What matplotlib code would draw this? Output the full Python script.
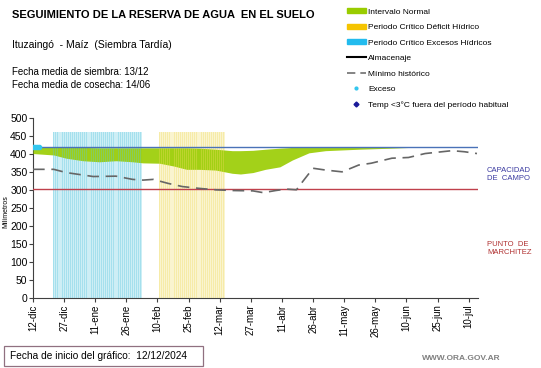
import numpy as np
import matplotlib
matplotlib.use('Agg')
import matplotlib.pyplot as plt
from matplotlib.patches import Patch, Rectangle
from matplotlib.lines import Line2D

plt.rcParams['font.family'] = ['Liberation Sans', 'DejaVu Sans']

# --- data (days since 12-dic) ---
dias_normal = [0, 10, 16, 24, 32, 40, 48, 53, 61, 68, 74, 80, 88, 96, 100, 106, 112, 119, 125, 133, 141, 157, 173, 190, 214]
inf_normal = [401, 397, 388, 381, 378, 381, 378, 375, 374, 366, 357, 357, 355, 346, 344, 348, 357, 364, 383, 403, 409, 413, 416, 420, 420]
sup_normal = [419, 419, 418, 418, 417, 417, 417, 417, 417, 417, 417, 416, 413, 409, 409, 410, 413, 416, 418, 419, 420, 420, 420, 420, 420]

dias_minimo = [0, 10, 16, 29, 40, 48, 53, 58, 65, 72, 80, 88, 96, 106, 111, 117, 122, 127, 130, 135, 141, 149, 157, 163, 173, 181, 189, 202, 208, 214]
minimo_hist = [357, 357, 348, 337, 338, 329, 327, 329, 318, 309, 304, 300, 298, 297, 292, 298, 302, 300, 323, 360, 355, 350, 369, 374, 388, 390, 401, 409, 406, 401]

dias_exceso = [0, 1, 2, 3]
exceso = [420, 420, 420, 420]

critico_exceso = (10, 52)    # first / last day
critico_deficit = (61, 92)
altura_critico = 460

capacidad_campo = 420
punto_marchitez = 303

tick_dias = list(range(0, 211, 15))
tick_labels = ['12-dic', '27-dic', '11-ene', '26-ene', '10-feb', '25-feb', '12-mar',
               '27-mar', '11-abr', '26-abr', '11-may', '26-may', '10-jun', '25-jun', '10-jul']

fig = plt.figure(figsize=(5.41, 3.68), dpi=100)
ax = fig.add_axes([33 / 541, 1 - 297.5 / 368, (478 - 33) / 541, (297.5 - 118) / 368])

# critical periods: light background below the green, thin daily bars above it
for (d0, d1), col in [(critico_exceso, '#5cc8e0'), (critico_deficit, '#f0dc60')]:
    dd = np.arange(d0, d1 + 1)
    ax.bar(dd, np.full(len(dd), altura_critico), width=1.0, color=col, alpha=0.3,
           lw=0, zorder=2)
    ax.bar(dd, np.full(len(dd), altura_critico), width=0.45, color=col, alpha=0.35,
           lw=0, zorder=3.5)

ax.fill_between(dias_normal, inf_normal, sup_normal, color='#99cc00', alpha=0.9,
                lw=0, zorder=3)

ax.axhline(capacidad_campo, color='#4a72b8', lw=1, zorder=4)
ax.axhline(punto_marchitez, color='#c0404c', lw=1, zorder=4)

ax.plot(dias_minimo, minimo_hist, color='#666666', lw=1.2, dashes=(7, 4), zorder=5)
ax.plot(dias_exceso, exceso, 'o', color='#33c6ee', ms=3, zorder=6)

ax.set_xlim(0, 214.5)
ax.set_ylim(0, 500)
ax.set_yticks(range(0, 501, 50))
ax.set_xticks(tick_dias)
ax.set_xticklabels(tick_labels, rotation=90, fontsize=7)
ax.tick_params(axis='y', labelsize=7.5, length=3, pad=1, color='#404040')
ax.tick_params(axis='x', length=3, pad=2, color='#404040')
for s in ['top', 'right']:
    ax.spines[s].set_visible(False)
for s in ['left', 'bottom']:
    ax.spines[s].set_color('#404040')

fig.text(6 / 541, 1 - 212 / 368, 'Milímetros', rotation=90, fontsize=5,
         ha='center', va='center')

# header texts
fig.text(12 / 541, 1 - 15 / 368, 'SEGUIMIENTO DE LA RESERVA DE AGUA  EN EL SUELO',
         fontsize=8, fontweight='bold', va='center')
fig.text(12 / 541, 1 - 45 / 368, 'Ituzaingó  - Maíz  (Siembra Tardía)', fontsize=7.5, va='center')
fig.text(12 / 541, 1 - 72 / 368, 'Fecha media de siembra: 13/12', fontsize=7, va='center')
fig.text(12 / 541, 1 - 85 / 368, 'Fecha media de cosecha: 14/06', fontsize=7, va='center')

fig.text(487 / 541, 1 - 174 / 368, 'CAPACIDAD\nDE  CAMPO', fontsize=5.5, color='#3a3aa0',
         va='center', linespacing=1.2)
fig.text(487 / 541, 1 - 249 / 368, 'PUNTO  DE\nMARCHITEZ', fontsize=5.5, color='#b03030',
         va='center', linespacing=1.2)

handles = [
    Patch(color='#99cc00'),
    Patch(color='#f5c400'),
    Patch(color='#22bbee'),
    Line2D([], [], color='black', lw=1.5),
    Line2D([], [], color='#707070', lw=1.2, dashes=(5, 3)),
    Line2D([], [], ls='', marker='o', color='#33c6ee', ms=2),
    Line2D([], [], ls='', marker='D', color='#1a1a99', ms=2.5),
]
labels = ['Intervalo Normal', 'Periodo Crítico Déficit Hídrico', 'Periodo Crítico Excesos Hídricos',
          'Almacenaje', 'Mínimo histórico', 'Exceso', 'Temp <3°C fuera del período habitual']
fig.legend(handles, labels, loc='upper left', bbox_to_anchor=(343 / 541, 1 - 4 / 368),
           frameon=False, fontsize=6, labelspacing=0.95, handlelength=2.2,
           handletextpad=0.3, borderpad=0, handleheight=0.6)

fig.patches.append(Rectangle((4 / 541, 1 - 366 / 368), 199 / 541, 20 / 368,
                             transform=fig.transFigure, fc='white', ec='#907080', lw=0.9))
fig.text(10 / 541, 1 - 356 / 368, 'Fecha de inicio del gráfico:  12/12/2024', fontsize=7.3,
         va='center')
fig.text(422 / 541, 1 - 359 / 368, 'WWW.ORA.GOV.AR', fontsize=6, color='#808080',
         fontweight='bold', va='center')

fig.savefig('out.png', dpi=100)
